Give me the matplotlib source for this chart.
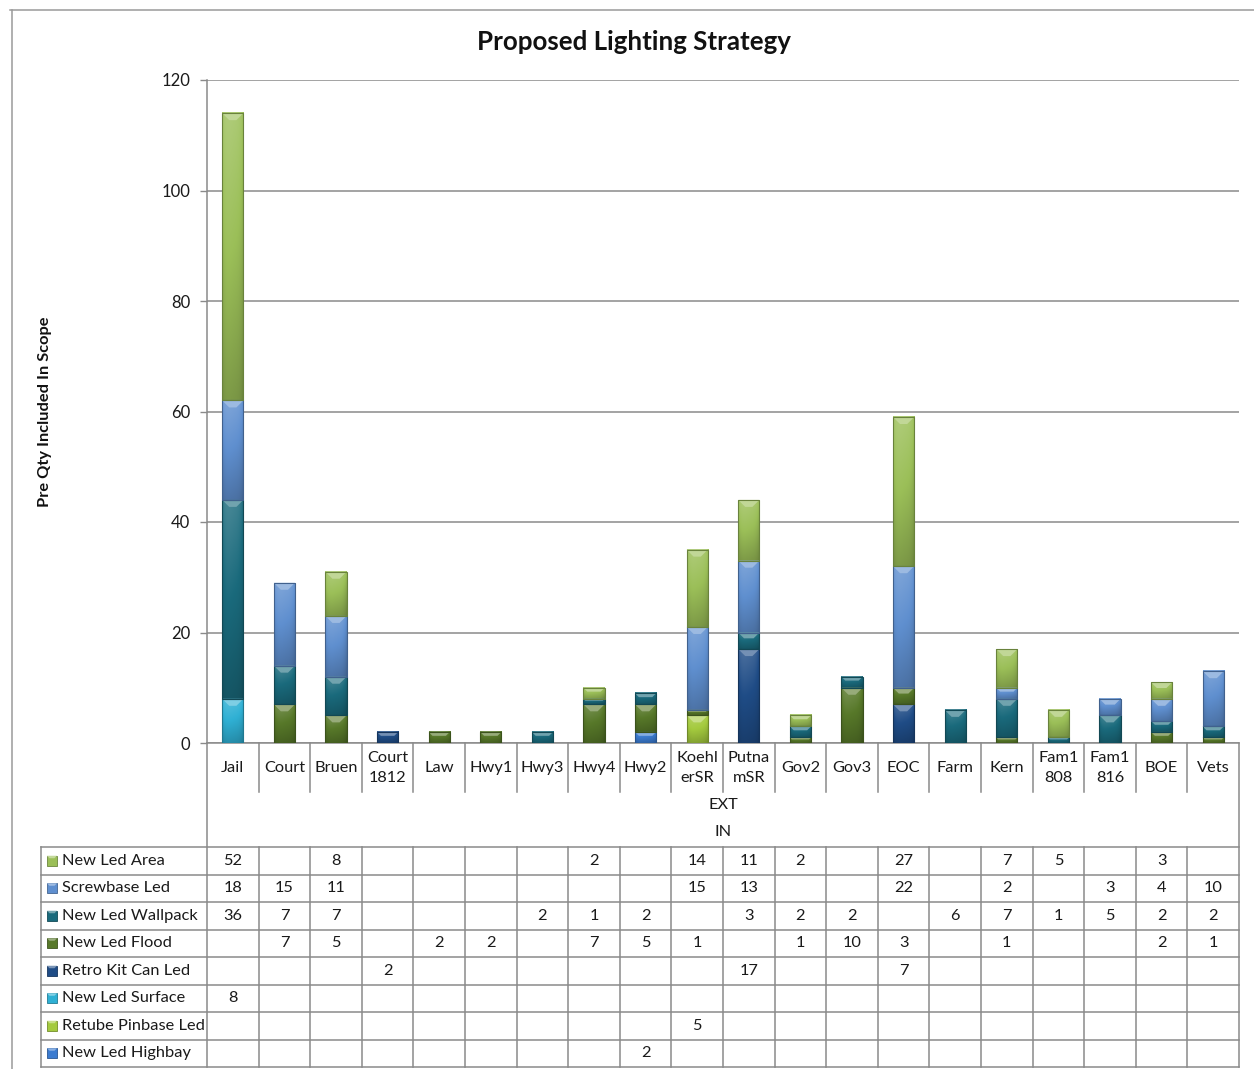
import numpy as np
import matplotlib
matplotlib.use("Agg")
import matplotlib.pyplot as plt
from matplotlib.patches import Rectangle, Polygon
from matplotlib.colors import to_rgb

# ---- data -------------------------------------------------------------
sites = ["Jail", "Court", "Bruen", "Court\n1812", "Law", "Hwy1", "Hwy3", "Hwy4",
         "Hwy2", "Koehl\nerSR", "Putna\nmSR", "Gov2", "Gov3", "EOC", "Farm",
         "Kern", "Fam1\n808", "Fam1\n816", "BOE", "Vets"]

N = None
new_led_area       = [52, N, 8, N, N, N, N, 2, N, 14, 11, 2, N, 27, N, 7, 5, N, 3, N]
screwbase_led      = [18, 15, 11, N, N, N, N, N, N, 15, 13, N, N, 22, N, 2, N, 3, 4, 10]
new_led_wallpack   = [36, 7, 7, N, N, N, 2, 1, 2, N, 3, 2, 2, N, 6, 7, 1, 5, 2, 2]
new_led_flood      = [N, 7, 5, N, 2, 2, N, 7, 5, 1, N, 1, 10, 3, N, 1, N, N, 2, 1]
retro_kit_can_led  = [N, N, N, 2, N, N, N, N, N, N, 17, N, N, 7, N, N, N, N, N, N]
new_led_surface    = [8, N, N, N, N, N, N, N, N, N, N, N, N, N, N, N, N, N, N, N]
retube_pinbase_led = [N, N, N, N, N, N, N, N, N, 5, N, N, N, N, N, N, N, N, N, N]
new_led_highbay    = [N, N, N, N, N, N, N, N, 2, N, N, N, N, N, N, N, N, N, N, N]

# table order (top to bottom); bars stack in the reverse order
series_names = ["New Led Area", "Screwbase Led", "New Led Wallpack", "New Led Flood",
                "Retro Kit Can Led", "New Led Surface", "Retube Pinbase Led",
                "New Led Highbay"]
series_values = [new_led_area, screwbase_led, new_led_wallpack, new_led_flood,
                 retro_kit_can_led, new_led_surface, retube_pinbase_led, new_led_highbay]
series_colors = ["#9bbf58", "#5f8fcf", "#1a6a7c", "#577829",
                 "#1f4c86", "#2fb0d4", "#a4ca3e", "#3b7bd0"]

yticks = [0, 20, 40, 60, 80, 100, 120]

# ---- layout -----------------------------------------------------------
W, H = 1254, 1069
FONT = "Lato"
GRID = "#8a8a8a"
TXT = "#1a1a1a"
plt.rcParams["font.family"] = [FONT, "DejaVu Sans"]

fig = plt.figure(figsize=(W / 100, H / 100), dpi=100)
fig.patch.set_facecolor("white")

px_left, px_right, px_top, px_base = 207, 1239, 80, 743
ax = fig.add_axes([px_left / W, 1 - px_base / H,
                   (px_right - px_left) / W, (px_base - px_top) / H])
ax.set_facecolor("none")

n = len(sites)
xs = np.arange(n)
bar_w = 0.41
y_per_px = 120 / (px_base - px_top)
x_per_px = n / (px_right - px_left)


def tone(rgb, f):
    rgb = np.asarray(rgb, dtype=float)
    if f >= 1:
        return rgb + (1 - rgb) * (f - 1)
    return rgb * f


def draw_segment(x, bottom, height, color):
    if height <= 0:
        return
    base = np.array(to_rgb(color))
    rows, cols = 48, 24
    v = np.linspace(1.18, 0.80, rows)[:, None]
    hpos = np.linspace(-1, 1, cols)[None, :]
    h = 1.0 - 0.12 * hpos ** 4 - 0.04 * hpos
    fac = v * h
    img = np.empty((rows, cols, 3))
    for c in range(3):
        lighter = base[c] + (1 - base[c]) * np.clip(fac - 1, 0, None)
        darker = base[c] * np.clip(fac, None, 1)
        img[:, :, c] = np.where(fac >= 1, lighter, darker)
    x0, x1 = x - bar_w / 2, x + bar_w / 2
    top = bottom + height
    ax.imshow(np.clip(img, 0, 1), extent=[x0, x1, bottom, top],
              aspect="auto", interpolation="bilinear", zorder=3)
    # bevelled top edge
    b = min(7 * y_per_px, 0.35 * height)
    d = b / y_per_px * x_per_px
    ax.add_patch(Polygon([[x0, top], [x1, top], [x1 - d, top - b], [x0 + d, top - b]],
                         closed=True, facecolor=tone(base, 1.38), edgecolor="none",
                         zorder=4))
    ax.add_patch(Rectangle((x0, bottom), bar_w, height, facecolor="none",
                           edgecolor=tone(base, 0.68), linewidth=0.8, zorder=5))


bottoms = np.zeros(n)
for name, vals, col in reversed(list(zip(series_names, series_values, series_colors))):
    arr = np.array([0 if v is None else v for v in vals], dtype=float)
    for i in range(n):
        draw_segment(xs[i], bottoms[i], arr[i], col)
    bottoms += arr

ax.set_xlim(-0.5, n - 0.5)
ax.set_ylim(0, 120)
ax.set_yticks(yticks)
ax.set_yticklabels([str(t) for t in yticks], fontsize=12, color=TXT)
ax.set_xticks([])
ax.tick_params(axis="y", length=5, width=1, color=GRID, pad=7)
for s in ["top", "right"]:
    ax.spines[s].set_visible(False)
for s in ["left", "bottom"]:
    ax.spines[s].set_color(GRID)
    ax.spines[s].set_linewidth(1.1)
ax.yaxis.grid(True, color=GRID, linewidth=1.1, zorder=0)
ax.set_axisbelow(True)

# ---- overlay for frame, category axis and data table -----------------
ov = fig.add_axes([0, 0, 1, 1], zorder=-1)
ov.set_xlim(0, W)
ov.set_ylim(H, 0)
ov.axis("off")
ov.patch.set_visible(False)

lw = 1.1
ov.plot([10, W], [10, 10], color="#9a9a9a", lw=lw)
ov.plot([12, 12], [10, H], color="#9a9a9a", lw=lw)

colw = (px_right - px_left) / n
row_top, row_h = 847, 27.5
n_rows = len(series_names)
table_bottom = row_top + n_rows * row_h
tbl_left = 41
FS = 11.8

# category axis dividers and labels
for i in range(1, n):
    xb = px_left + i * colw
    ov.plot([xb, xb], [px_base, 792], color=GRID, lw=lw)
    ov.plot([xb, xb], [row_top, table_bottom], color=GRID, lw=lw)
ov.plot([px_left, px_left], [px_base, table_bottom], color=GRID, lw=lw)
ov.plot([px_right, px_right], [px_base, table_bottom], color=GRID, lw=lw)
ov.plot([tbl_left, tbl_left], [row_top, table_bottom], color=GRID, lw=lw)
for k in range(n_rows + 1):
    yy = row_top + k * row_h
    ov.plot([tbl_left, px_right], [yy, yy], color=GRID, lw=lw)

for i, s in enumerate(sites):
    ov.text(px_left + (i + 0.5) * colw, 768, s, ha="center", va="center",
            fontsize=FS, color=TXT, linespacing=1.58)

mid = (px_left + px_right) / 2
ov.text(mid, 805, "EXT", ha="center", va="center", fontsize=FS, color=TXT)
ov.text(mid, 832, "IN", ha="center", va="center", fontsize=FS, color=TXT)

for k, (name, vals, col) in enumerate(zip(series_names, series_values, series_colors)):
    yc = row_top + (k + 0.5) * row_h
    base = np.array(to_rgb(col))
    ov.add_patch(Rectangle((47, yc - 5), 10, 10, facecolor=col,
                           edgecolor=tone(base, 0.7), lw=0.6))
    ov.add_patch(Polygon([[47, yc - 5], [57, yc - 5], [54.5, yc - 2.5], [49.5, yc - 2.5]],
                         facecolor=tone(base, 1.4), edgecolor="none"))
    ov.text(62, yc, name, ha="left", va="center", fontsize=FS, color=TXT)
    for i, v in enumerate(vals):
        if v is not None:
            ov.text(px_left + (i + 0.5) * colw, yc, str(v), ha="center", va="center",
                    fontsize=FS, color=TXT)

# ---- titles ------------------------------------------------------------
fig.text(634 / W, 1 - 42 / H, "Proposed Lighting Strategy", ha="center", va="center",
         fontsize=18.6, fontweight="bold", color="#111111")
fig.text(45 / W, 1 - 412 / H, "Pre Qty Included In Scope", ha="center", va="center",
         rotation=90, fontsize=11.8, fontweight="bold", color="#111111")

fig.savefig("out.png", dpi=100, facecolor="white")
